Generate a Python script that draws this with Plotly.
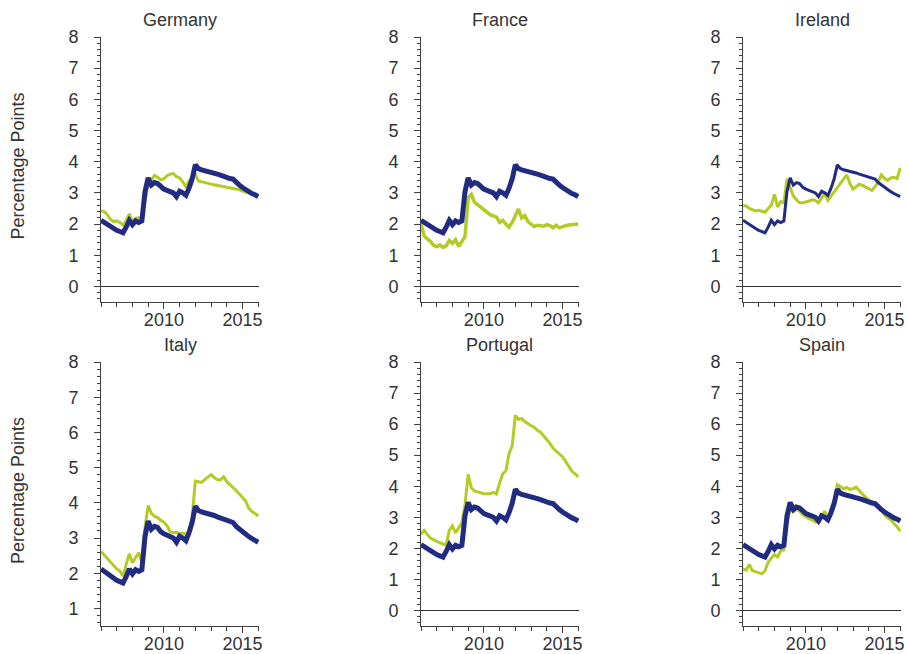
import plotly.graph_objects as go

# Time axis (decimal years)
years = [2006.0, 2006.2, 2006.4, 2006.6, 2006.8, 2007.0, 2007.2, 2007.4, 2007.6, 2007.8,
         2008.0, 2008.2, 2008.4, 2008.6, 2008.8, 2009.0, 2009.2, 2009.4, 2009.6, 2009.8,
         2010.0, 2010.2, 2010.4, 2010.6, 2010.8, 2011.0, 2011.2, 2011.4, 2011.6, 2011.8,
         2012.0, 2012.2, 2012.4, 2012.6, 2012.8, 2013.0, 2013.2, 2013.4, 2013.6, 2013.8,
         2014.0, 2014.2, 2014.4, 2014.6, 2014.8, 2015.0, 2015.2, 2015.4, 2015.6, 2015.8,
         2016.0]

# Common benchmark series (dark blue), same in every panel
benchmark = [2.12, 2.05, 1.98, 1.92, 1.86, 1.80, 1.76, 1.72, 1.90, 2.12,
             1.98, 2.10, 2.05, 2.10, 3.05, 3.48, 3.25, 3.33, 3.30, 3.18,
             3.12, 3.08, 3.03, 3.00, 2.88, 3.05, 3.00, 2.92, 3.15, 3.45,
             3.90, 3.78, 3.74, 3.72, 3.70, 3.68, 3.64, 3.60, 3.57, 3.52,
             3.50, 3.46, 3.44, 3.33, 3.25, 3.17, 3.10, 3.04, 2.98, 2.94,
             2.88]

germany = [2.43, 2.40, 2.30, 2.15, 2.08, 2.10, 2.05, 1.97, 2.10, 2.33,
           2.08, 2.18, 2.20, 2.20, 2.75, 3.25, 3.40, 3.56, 3.50, 3.42,
           3.45, 3.55, 3.60, 3.62, 3.52, 3.48, 3.35, 3.20, 3.38, 3.50,
           3.60, 3.38, 3.35, 3.33, 3.30, 3.28, 3.26, 3.24, 3.22, 3.20,
           3.18, 3.18, 3.15, 3.13, 3.10, 3.06, 3.02, 3.00, 2.97, 2.93,
           2.88]

france = [2.00, 1.62, 1.52, 1.45, 1.32, 1.27, 1.33, 1.25, 1.30, 1.48,
          1.38, 1.50, 1.28, 1.45, 1.60, 2.85, 2.95, 2.70, 2.62, 2.55,
          2.48, 2.38, 2.30, 2.26, 2.22, 2.05, 2.12, 2.00, 1.90, 2.05,
          2.25, 2.48, 2.20, 2.28, 2.08, 2.00, 1.92, 1.96, 1.95, 1.93,
          1.98, 1.95, 1.88, 1.96, 1.88, 1.93, 1.95, 1.97, 1.98, 1.97,
          2.00]

ireland = [2.60, 2.58, 2.50, 2.45, 2.42, 2.44, 2.40, 2.38, 2.50, 2.60,
           2.95, 2.55, 2.72, 2.68, 3.45, 3.20, 2.90, 2.78, 2.68, 2.68,
           2.70, 2.74, 2.78, 2.76, 2.68, 2.85, 2.98, 2.76, 2.90, 3.05,
           3.20, 3.32, 3.45, 3.58, 3.30, 3.12, 3.20, 3.28, 3.24, 3.18,
           3.12, 3.08, 3.20, 3.35, 3.58, 3.46, 3.40, 3.48, 3.50, 3.46,
           3.80]

italy = [2.62, 2.52, 2.45, 2.35, 2.25, 2.12, 2.06, 1.92, 2.25, 2.55,
         2.30, 2.45, 2.58, 2.30, 3.30, 3.92, 3.70, 3.62, 3.58, 3.50,
         3.45, 3.35, 3.18, 3.15, 3.16, 3.13, 3.14, 3.10, 3.20, 3.60,
         4.62, 4.60, 4.58, 4.66, 4.72, 4.80, 4.72, 4.66, 4.65, 4.74,
         4.60, 4.52, 4.45, 4.35, 4.25, 4.15, 4.05, 3.85, 3.75, 3.70,
         3.62]

portugal = [2.45, 2.58, 2.45, 2.33, 2.28, 2.22, 2.18, 2.14, 2.10, 2.58,
            2.72, 2.50, 2.68, 2.82, 3.40, 4.38, 3.95, 3.85, 3.82, 3.78,
            3.76, 3.76, 3.76, 3.80, 3.75, 4.10, 4.40, 4.50, 5.05, 5.30,
            6.28, 6.15, 6.18, 6.08, 6.00, 5.95, 5.90, 5.80, 5.74, 5.62,
            5.48, 5.38, 5.22, 5.12, 5.02, 4.95, 4.80, 4.62, 4.48, 4.40,
            4.30]

spain = [1.34, 1.30, 1.48, 1.28, 1.25, 1.22, 1.18, 1.28, 1.55, 1.68,
         1.80, 1.72, 1.92, 1.95, 2.80, 3.26, 3.18, 3.26, 3.20, 3.08,
         3.00, 2.95, 2.92, 2.85, 2.85, 3.05, 3.20, 2.95, 3.28, 3.55,
         4.05, 3.98, 3.92, 3.96, 3.90, 3.92, 3.97, 3.85, 3.75, 3.66,
         3.55, 3.50, 3.44, 3.38, 3.25, 3.08, 2.98, 2.92, 2.80, 2.70,
         2.55]

countries = ["Germany", "France", "Ireland", "Italy", "Portugal", "Spain"]
country_series = [germany, france, ireland, italy, portugal, spain]
y_ranges = [[-0.5, 8], [-0.5, 8], [-0.5, 8], [0.5, 8], [-0.5, 8], [-0.5, 8]]
x_range = [2006, 2016.05]

BLUE = "#222b82"
GREEN = "#b4cb25"
TEXT = "#333333"
AXIS = "#404040"
FONT = "Liberation Sans, Arial, sans-serif"

W, H = 908, 654
col_px = [(101, 259), (421, 579), (743, 901)]
row_px = [(37, 302), (362, 626)]

blue_widths = [5, 5, 3, 5, 5, 5]
green_widths = [3, 3.5, 3, 3, 3, 3]

fig = go.Figure()
annotations = []
for i, name in enumerate(countries):
    r, c = divmod(i, 3)
    idx = "" if i == 0 else str(i + 1)
    x0, x1 = col_px[c]
    y0, y1 = row_px[r]
    xd = [x0 / W, x1 / W]
    yd = [1 - y1 / H, 1 - y0 / H]
    fig.add_trace(go.Scatter(x=years, y=country_series[i], mode="lines",
                             line=dict(color=GREEN, width=green_widths[i]),
                             xaxis="x" + idx, yaxis="y" + idx, showlegend=False))
    fig.add_trace(go.Scatter(x=years, y=benchmark, mode="lines",
                             line=dict(color=BLUE, width=blue_widths[i]),
                             xaxis="x" + idx, yaxis="y" + idx, showlegend=False))
    fig.layout["xaxis" + idx] = dict(
        domain=xd, range=x_range, anchor="y" + idx, automargin=False,
        tickmode="linear", tick0=2010, dtick=5, ticks="outside", ticklen=6,
        tickwidth=1, tickcolor=AXIS, showline=True, linecolor=AXIS, linewidth=1,
        showgrid=False, zeroline=False, ticklabelstandoff=-5,
        minor=dict(tickmode="linear", tick0=2006, dtick=1, ticks="outside",
                   ticklen=4, tickcolor=AXIS, showgrid=False),
        tickfont=dict(size=18, color=TEXT, family=FONT))
    fig.layout["yaxis" + idx] = dict(
        domain=yd, range=y_ranges[i], anchor="x" + idx, automargin=False,
        tickmode="linear", tick0=0, dtick=1, ticks="outside", ticklen=6,
        tickwidth=1, tickcolor=AXIS, showline=True, linecolor=AXIS, linewidth=1,
        showgrid=False, zeroline=True, zerolinecolor="#333333", zerolinewidth=1,
        minor=dict(tickmode="linear", tick0=0, dtick=0.2, ticks="outside",
                   ticklen=3, tickcolor=AXIS, showgrid=False),
        ticklabelstandoff=12,
        tickfont=dict(size=18, color=TEXT, family=FONT))
    annotations.append(dict(text=name, x=(x0 + x1) / 2 / W, y=1 - (y0 - 17) / H,
                            xref="paper", yref="paper", xanchor="center", yanchor="middle",
                            showarrow=False, font=dict(size=18, color=TEXT, family=FONT)))

for (y0, y1) in row_px:
    annotations.append(dict(text="Percentage Points", x=18 / W, y=1 - ((y0 + y1) / 2 - 3) / H,
                            xref="paper", yref="paper", xanchor="center", yanchor="middle",
                            textangle=-90, showarrow=False,
                            font=dict(size=18, color=TEXT, family=FONT)))

fig.update_layout(width=W, height=H,
                  margin=dict(l=0, r=0, t=0, b=0, pad=0, autoexpand=False),
                  paper_bgcolor="white", plot_bgcolor="white", showlegend=False,
                  annotations=annotations, font=dict(family=FONT, color=TEXT))

fig.write_html("out.html", config={"displayModeBar": False},
               post_script="document.body.style.margin='0';document.body.style.overflow='hidden';")
